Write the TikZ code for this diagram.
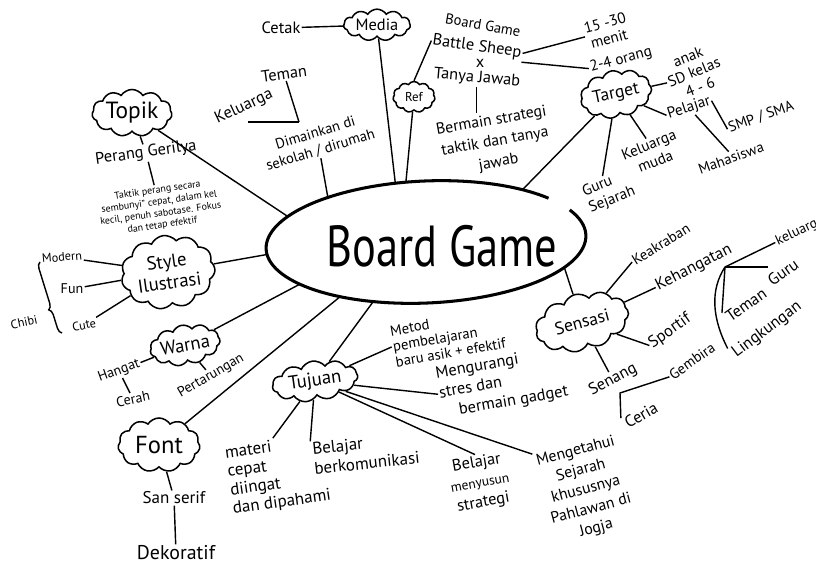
\documentclass[tikz,border=0pt]{standalone}
\usepackage{fontspec}
\setmainfont{PT Sans}
\usetikzlibrary{shapes.symbols,shapes.geometric,decorations.pathreplacing}

\begin{document}
\begin{tikzpicture}[x=0.03cm,y=-0.03cm]
\tikzstyle{cloudbox} = [cloud, draw, line width=1.3pt, cloud puffs=11, cloud puff arc=115, cloud ignores aspect, inner sep=0pt, align=center]
\tikzstyle{note} = [align=center, inner sep=1pt, font=\fontsize{14}{17}\selectfont]
\tikzstyle{smalltxt} = [align=center, inner sep=1pt, font=\fontsize{12}{14}\selectfont]
\tikzstyle{conn} = [line width=1.2pt]
\useasboundingbox (0,0) rectangle (816,567);

% pusat
\node[ellipse, rotate=2.5, minimum width=9.6cm, minimum height=3.66cm] (board) at (426,242) {};
\draw[line width=2.6pt, rotate around={2.5:(426,242)}] (426,242) ++(-25:160 and 61) arc[start angle=-25, end angle=321, x radius=160, y radius=61];
\node[font=\fontsize{38}{40}\selectfont] (title) at (442,246) {\scalebox{1}[1.3]{Board Game}};

% media, ref
\node[note] (cetak) at (281,28) {Cetak};
\node[cloudbox, minimum width=2.0cm, minimum height=0.95cm, font=\fontsize{14}{16}\selectfont] (media) at (377,25) {Media};
\node[cloudbox, minimum width=1.26cm, minimum height=0.93cm, font=\fontsize{11}{13}\selectfont] (ref) at (414,97) {Ref};
\node[smalltxt, rotate=-10, font=\fontsize{12.5}{14}\selectfont] (bgame) at (483,25) {Board Game};
\node[note, rotate=-8] (sheep) at (477,47) {Battle Sheep};
\node[note] (kali) at (480,63) {x};
\node[note, rotate=-5] (tanya) at (477,78) {Tanya Jawab};
\node[note, rotate=10, font=\fontsize{13.5}{18}\selectfont] (strategi) at (495,142) {Bermain strategi\\taktik dan tanya\\jawab};
\node[smalltxt, rotate=15, font=\fontsize{13}{14}\selectfont] (menit) at (607,31) {15 -30\\menit};
\node[smalltxt, rotate=15, font=\fontsize{13}{14}\selectfont] (orang) at (621,60) {2-4 orang};

% target
\node[cloudbox, rotate=12, minimum width=2.16cm, minimum height=1.41cm, font=\fontsize{15}{17}\selectfont] (target) at (616,94) {Target};
\node[smalltxt, rotate=22, font=\fontsize{13}{14}\selectfont] (anak) at (694,72) {anak\\SD kelas\\4 - 6};
\node[smalltxt, rotate=18, font=\fontsize{13}{14}\selectfont] (pelajar) at (689,108) {Pelajar};
\node[smalltxt, rotate=20, font=\fontsize{12.5}{14}\selectfont] (smp) at (761,117) {SMP / SMA};
\node[smalltxt, rotate=20, font=\fontsize{12.5}{14}\selectfont] (maha) at (731,158) {Mahasiswa};
\node[smalltxt, rotate=22, align=left, font=\fontsize{13}{15}\selectfont] (guru) at (609,192) {Guru\\Sejarah};
\node[smalltxt, rotate=22, font=\fontsize{13}{15}\selectfont] (muda) at (652,153) {Keluarga\\muda};

% dimainkan
\node[note, rotate=8] (teman) at (284,74) {Teman};
\node[note, rotate=25] (keluarga) at (244,107) {Keluarga};
\coordinate (kl) at (248,122);
\coordinate (kt) at (299,122);
\node[smalltxt, rotate=17, font=\fontsize{12.5}{15}\selectfont] (main) at (318,142) {Dimainkan di\\sekolah / dirumah};

% topik
\node[cloudbox, minimum width=2.4cm, minimum height=1.41cm, font=\fontsize{20}{22}\selectfont] (topik) at (132,113) {Topik};
\node[note, rotate=8] (gerilya) at (146,153) {Perang Gerilya};
\node[align=center, rotate=8, font=\fontsize{8.5}{10}\selectfont, inner sep=1pt] (taktik) at (160,208) {Taktik perang secara\\sembunyi" cepat, dalam kel\\kecil, penuh sabotase. Fokus\\dan tetap efektif};

% style
\node[cloudbox, rotate=8, minimum width=2.6cm, minimum height=2.2cm, font=\fontsize{16}{18}\selectfont] (gaya) at (168,272) {Style\\Ilustrasi};
\node[smalltxt, rotate=5, font=\fontsize{10.5}{12}\selectfont] (modern) at (62,257) {Modern};
\node[smalltxt] (fun) at (72,289) {Fun};
\node[smalltxt, rotate=10, font=\fontsize{10.5}{12}\selectfont] (cute) at (84,325) {Cute};
\node[smalltxt, rotate=12, font=\fontsize{10.5}{12}\selectfont] (chibi) at (24,322) {Chibi};
\coordinate (cb1) at (62,333);
\coordinate (cb2) at (40,262);

% warna
\node[cloudbox, rotate=10, minimum width=2.0cm, minimum height=1.2cm, font=\fontsize{16}{18}\selectfont] (warna) at (185,345) {Warna};
\node[smalltxt, rotate=20] (hangat) at (119,371) {Hangat};
\node[smalltxt, rotate=12] (cerah) at (133,399) {Cerah};
\node[smalltxt, rotate=30] (tarung) at (211,376) {Pertarungan};

% font
\node[cloudbox, minimum width=2.46cm, minimum height=1.62cm, font=\fontsize{21}{23}\selectfont] (fontc) at (159,445) {Font};
\node[note, font=\fontsize{14.5}{16}\selectfont] (serif) at (174,498) {San serif};
\node[note, font=\fontsize{17}{19}\selectfont] (dekor) at (176,553) {Dekoratif};

% tujuan
\node[cloudbox, rotate=8, minimum width=2.58cm, minimum height=1.2cm, font=\fontsize{16}{18}\selectfont] (tujuan) at (315,381) {Tujuan};
\node[smalltxt, rotate=10, align=left, font=\fontsize{12.5}{13.5}\selectfont] (metod) at (448,337) {Metod\\pembelajaran\\baru asik + efektif};
\node[note, rotate=10, align=left] (stres) at (502,383) {Mengurangi\\stres dan\\\hspace*{0.5cm}bermain gadget};
\node[note, rotate=8, align=left, font=\fontsize{14.5}{16}\selectfont] (materi) at (278,475) {materi\\cepat\\diingat\\dan dipahami};
\node[note, rotate=6, align=left, font=\fontsize{14.5}{17}\selectfont] (komun) at (366,453) {Belajar\\berkomunikasi};
\node[note, rotate=10] (susun) at (480,483) {Belajar\\{\fontsize{11.5}{12}\selectfont menyusun}\\strategi};
\node[note, rotate=15, font=\fontsize{13.5}{17}\selectfont] (sejarah) at (586,490) {Mengetahui\\Sejarah\\khususnya\\Pahlawan di\\Jogja};

% sensasi
\node[cloudbox, rotate=15, minimum width=2.85cm, minimum height=1.7cm, font=\fontsize{15}{17}\selectfont] (sensasi) at (582,322) {Sensasi};
\node[smalltxt, rotate=32, font=\fontsize{12.5}{14}\selectfont] (akrab) at (661,244) {Keakraban};
\node[note, rotate=27] (hangatan) at (694,268) {Kehangatan};
\node[note, rotate=35] (sportif) at (670,331) {Sportif};
\node[note, rotate=28] (senang) at (613,380) {Senang};
\node[smalltxt, rotate=35, font=\fontsize{12.5}{14}\selectfont] (gembira) at (692,361) {Gembira};
\node[note, rotate=30] (ceria) at (641,415) {Ceria};
\coordinate (cg) at (620,393);
\coordinate (hub) at (725,267);
\node[smalltxt, rotate=25] (kel2) at (800,231) {keluarga};
\node[note, rotate=35] (guru2) at (783,272) {Guru};
\node[note, rotate=35] (teman2) at (746,305) {Teman};
\node[note, rotate=37] (lingk) at (767,330) {Lingkungan};

\draw[conn] (cetak) -- (media);
\draw[conn] (media) -- (board.115);
\draw[conn] (ref) -- (board.106);
\draw[conn] (ref.north) -- (sheep.west);
\draw[conn] (sheep.east) -- (menit.west);
\draw[conn] (sheep.south east) -- (orang.west);
\draw[conn] (tanya.south) -- (tanya.south |- strategi.north);
\draw[conn] (target) -- (board.26);
\draw[conn] (target) -- (anak.west);
\draw[conn] (target) -- (pelajar.west);
\draw[conn] (target) -- (guru.north);
\draw[conn] (target) -- (muda.north);
\draw[conn] (pelajar.east) -- (smp.west);
\draw[conn] (pelajar) -- (maha.north);
\draw[conn] (teman) -- (kt);
\draw[conn] (kl) -- (kt);
\draw[conn] (main) -- (board.153);
\draw[conn] (topik) -- (board.167);
\draw[conn] (topik) -- (gerilya);
\draw[conn] (gerilya) -- (taktik);
\draw[conn] (gaya) -- (board.182);
\draw[conn] (modern) -- (gaya);
\draw[conn] (fun) -- (gaya);
\draw[conn] (cute) -- (gaya);
\draw[conn, decorate, decoration={brace, amplitude=5pt, aspect=0.35}] (cb1) -- (cb2);
\draw[conn] (warna) -- (board.196);
\draw[conn] (hangat) -- (warna);
\draw[conn] (hangat) -- (cerah);
\draw[conn] (warna) -- (tarung);
\draw[conn] (fontc) -- (board.210);
\draw[conn] (fontc) -- (serif);
\draw[conn] (serif) -- (dekor);
\draw[conn] (tujuan) -- (board.226);
\draw[conn] (tujuan) -- (metod.west);
\draw[conn] (tujuan) -- (stres.west);
\draw[conn] (tujuan) -- (materi.north);
\draw[conn] (tujuan) -- (komun.north west);
\draw[conn] (tujuan) -- (susun.north);
\draw[conn] (tujuan) -- (sejarah.north west);
\draw[conn] (sensasi) -- (board.347);
\draw[conn] (sensasi) -- (akrab.west);
\draw[conn] (sensasi) -- (hangatan.west);
\draw[conn] (sensasi) -- (sportif.west);
\draw[conn] (sensasi) -- (senang.north);
\draw[conn] (gembira.west) -- (cg) -- (ceria.north west);
\draw[conn] (hub) -- (kel2.west);
\draw[conn] (hub) -- (hub -| guru2.west);
\draw[conn] (hub) -- (teman2.north west);
\draw[conn] (hub) .. controls (710,290) and (712,318) .. (lingk.north west);
\end{tikzpicture}
\end{document}
